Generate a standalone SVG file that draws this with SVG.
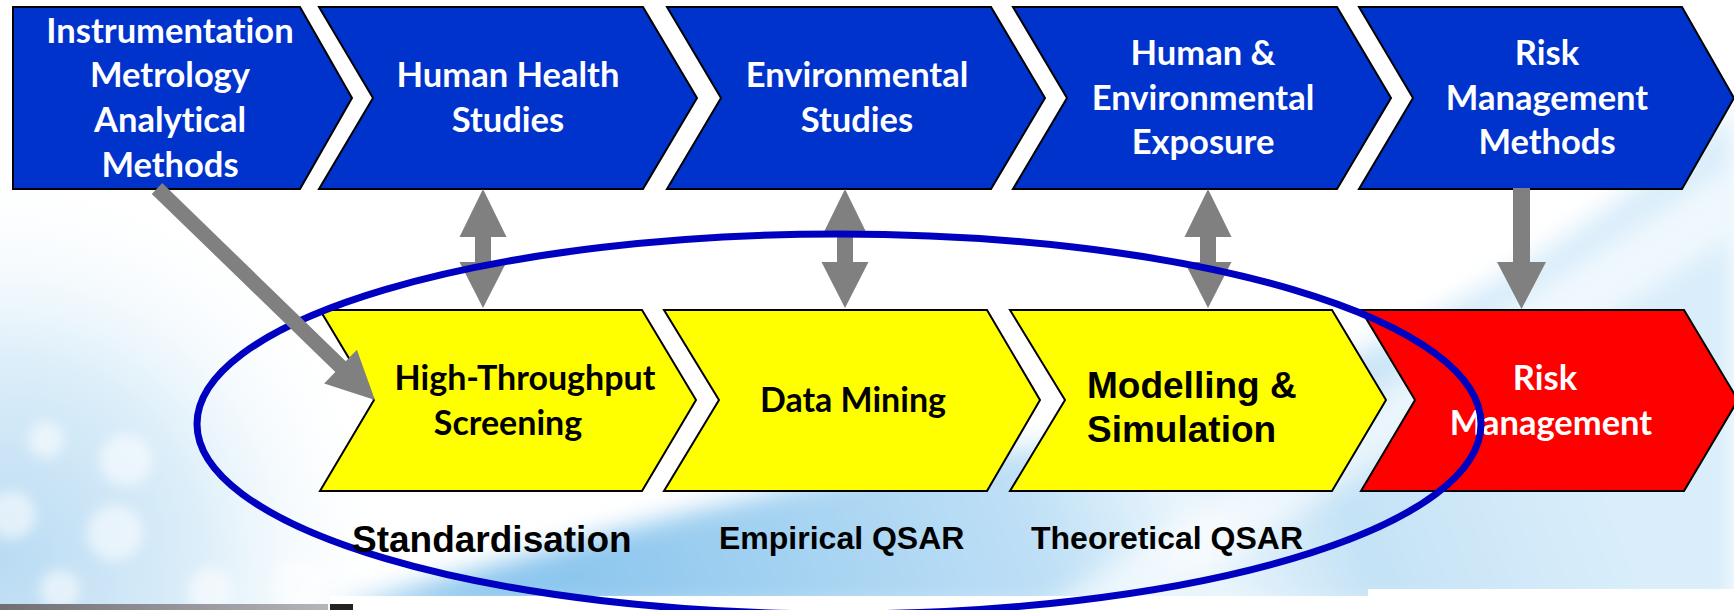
<svg xmlns="http://www.w3.org/2000/svg" width="1734" height="610" viewBox="0 0 1734 610">
  <defs>
    <style>
      text { font-variant-ligatures: none; }
      .top { fill: #0033CC; stroke: #000; stroke-width: 2; stroke-linejoin: miter; }
      .yellow { fill: #FFFF00; stroke: #000; stroke-width: 2; }
      .red { fill: #FF0000; stroke: #000; stroke-width: 2; }
      .wt { font-family: Lato, "Open Sans", sans-serif; font-weight: 700; font-size: 34.5px; fill: #fff; text-anchor: middle; }
      .bt { font-family: Lato, "Open Sans", sans-serif; font-weight: 700; font-size: 34px; fill: #000; text-anchor: middle; }
      .ar { font-family: "Liberation Sans", Arial, sans-serif; font-weight: 700; fill: #000; }
      .gray { fill: #808080; }
    </style>
    <!-- two-headed vertical block arrow, top tip at origin -->
    <path id="dbl" d="M0,0 L23.5,48 L8,48 L8,73 L23.5,73 L0,119 L-23.5,73 L-8,73 L-8,48 L-23.5,48 Z"/>
    <radialGradient id="bokeh" cx="0" cy="560" r="400" gradientUnits="userSpaceOnUse">
      <stop offset="0" stop-color="#B9DBF3"/>
      <stop offset="0.5" stop-color="#DCEEF9"/>
      <stop offset="1" stop-color="#FFFFFF" stop-opacity="0"/>
    </radialGradient>
    <linearGradient id="sky" x1="600" y1="610" x2="1500" y2="250" gradientUnits="userSpaceOnUse">
      <stop offset="0" stop-color="#8EC7EE"/>
      <stop offset="0.45" stop-color="#BFE0F6"/>
      <stop offset="0.6" stop-color="#EAF5FC"/>
      <stop offset="0.75" stop-color="#C4E2F6"/>
      <stop offset="1" stop-color="#D9EDFA"/>
    </linearGradient>
    <linearGradient id="bar" x1="0" y1="0" x2="1" y2="0">
      <stop offset="0" stop-color="#6E6E74"/>
      <stop offset="1" stop-color="#B4B4BA"/>
    </linearGradient>
    <filter id="soft" x="-20%" y="-20%" width="140%" height="140%">
      <feGaussianBlur stdDeviation="12"/>
    </filter>
    <filter id="softer" x="-30%" y="-30%" width="160%" height="160%">
      <feGaussianBlur stdDeviation="6"/>
    </filter>
  </defs>

  <!-- backdrop -->
  <g id="backdrop">
    <rect width="1734" height="610" fill="#fff"/>
    <rect x="0" y="140" width="420" height="470" fill="url(#bokeh)"/>
    <g fill="#fff" opacity="0.55" filter="url(#softer)">
      <circle cx="126" cy="460" r="26"/>
      <circle cx="115" cy="533" r="28"/>
      <circle cx="12" cy="515" r="24"/>
      <circle cx="46" cy="440" r="18"/>
      <circle cx="300" cy="585" r="26"/>
      <circle cx="210" cy="590" r="22"/>
      <circle cx="60" cy="590" r="20"/>
    </g>
    <path d="M330,610 C520,560 760,480 1040,445 C1290,410 1500,300 1734,110 L1734,610 Z" fill="url(#sky)" filter="url(#soft)"/>
    <path d="M1040,610 L1150,610 L1734,235 L1734,165 Z" fill="#fff" opacity="0.6" filter="url(#soft)"/>
    <rect x="330" y="596" width="1040" height="14" fill="#fff"/>
    <rect x="1368" y="589" width="366" height="21" fill="#fff"/>
    <rect x="0" y="604" width="328" height="6" fill="url(#bar)"/>
    <rect x="330" y="604" width="23" height="6" fill="#222"/>
  </g>

  <!-- upper process row -->
  <g id="instrumentation">
    <path class="top" d="M13,7 L300,7 L352,98 L300,189 L13,189 Z"/>
    <text class="wt" x="170" y="43">Instrumentation</text>
    <text class="wt" x="170" y="87">Metrology</text>
    <text class="wt" x="170" y="132">Analytical</text>
    <text class="wt" x="170" y="177">Methods</text>
  </g>
  <g id="human-health">
    <path class="top" d="M319,7 L643,7 L697,98 L643,189 L319,189 L373,98 Z"/>
    <text class="wt" x="508" y="87">Human Health</text>
    <text class="wt" x="508" y="132">Studies</text>
  </g>
  <g id="environmental">
    <path class="top" d="M667,7 L991,7 L1045,98 L991,189 L667,189 L721,98 Z"/>
    <text class="wt" x="857" y="87">Environmental</text>
    <text class="wt" x="857" y="132">Studies</text>
  </g>
  <g id="exposure">
    <path class="top" d="M1013,7 L1337,7 L1391,98 L1337,189 L1013,189 L1067,98 Z"/>
    <text class="wt" x="1203" y="65">Human &amp;</text>
    <text class="wt" x="1203" y="110">Environmental</text>
    <text class="wt" x="1203" y="154">Exposure</text>
  </g>
  <g id="risk-methods">
    <path class="top" d="M1359,7 L1682,7 L1734,98 L1682,189 L1359,189 L1413,98 Z"/>
    <text class="wt" x="1547" y="65">Risk</text>
    <text class="wt" x="1547" y="110">Management</text>
    <text class="wt" x="1547" y="154">Methods</text>
  </g>

  <!-- links between the rows -->
  <g id="connectors" class="gray">
    <use href="#dbl" transform="translate(483,189)"/>
    <use href="#dbl" transform="translate(845,189)"/>
    <use href="#dbl" transform="translate(1208,189)"/>
    <path d="M1513,188 L1530,188 L1530,262 L1546,262 L1521.5,309 L1497,262 L1513,262 Z"/>
  </g>

  <!-- lower process row -->
  <g id="screening">
    <path class="yellow" d="M320,310 L642,310 L696,400 L642,491 L320,491 L374,400 Z"/>
    <text class="bt" x="525" y="390">High-Throughput</text>
    <text class="bt" x="508" y="435">Screening</text>
  </g>
  <g id="data-mining">
    <path class="yellow" d="M664,310 L987,310 L1040,400 L987,491 L664,491 L719,400 Z"/>
    <text class="bt" x="853" y="412">Data Mining</text>
  </g>
  <g id="modelling">
    <path class="yellow" d="M1010,310 L1332,310 L1386,400 L1332,491 L1010,491 L1065,400 Z"/>
    <text class="ar" x="1087" y="398" font-size="37">Modelling &amp;</text>
    <text class="ar" x="1087" y="442" font-size="37">Simulation</text>
  </g>
  <g id="risk-management">
    <path class="red" d="M1361,310 L1684,310 L1738,400 L1684,491 L1361,491 L1415,400 Z"/>
    <text class="wt" x="1545" y="390">Risk</text>
    <text class="wt" x="1551" y="435">Management</text>
  </g>

  <!-- scope ring around the computational steps -->
  <g id="scope">
    <ellipse cx="839" cy="424" rx="642" ry="190" fill="none" stroke="#0000C0" stroke-width="7"/>
  </g>

  <!-- labels under the lower row -->
  <g id="methods-labels">
    <text class="ar" x="352" y="552" font-size="37">Standardisation</text>
    <text class="ar" x="719" y="549" font-size="32">Empirical QSAR</text>
    <text class="ar" x="1031" y="549" font-size="32">Theoretical QSAR</text>
  </g>

  <!-- feed from instrumentation into screening -->
  <g id="feed" class="gray">
    <path d="M0,-7.5 L255.7,-7.5 L255.7,-23.5 L303.7,0 L255.7,23.5 L255.7,7.5 L0,7.5 Z" transform="translate(157,188.5) rotate(44.13)"/>
  </g>
</svg>
